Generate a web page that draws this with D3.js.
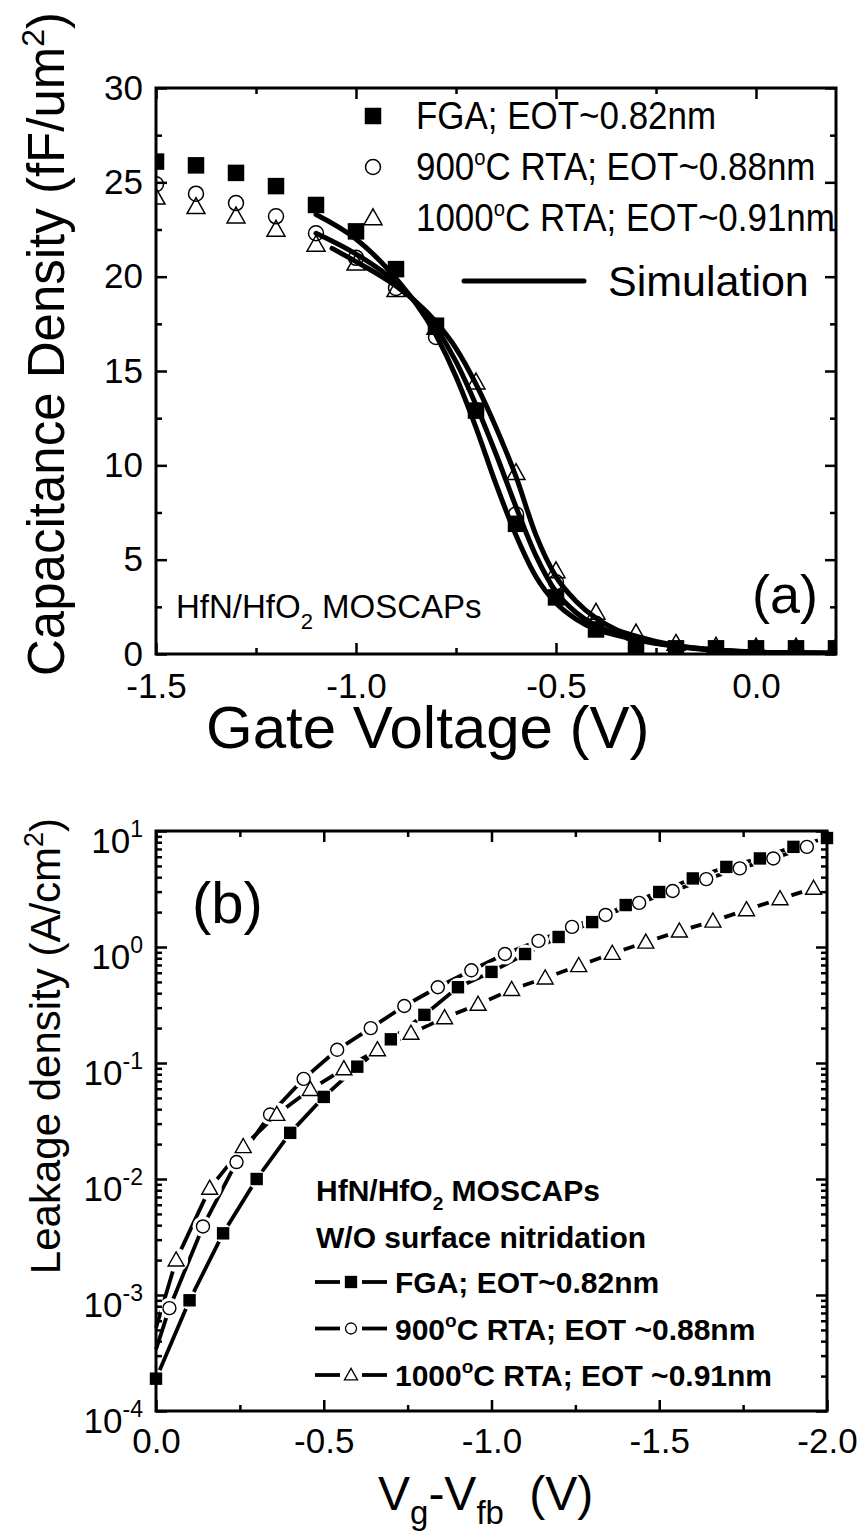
<!DOCTYPE html>
<html>
<head>
<meta charset="utf-8">
<script src="https://cdn.jsdelivr.net/npm/d3@7"></script>
<style>
  body { margin: 0; background: #fff; }
  svg text { font-family: "Liberation Sans", Arial, Helvetica, sans-serif; fill: #000; }
</style>
</head>
<body>
<svg id="fig" width="865" height="1531"></svg>
<script>
// ---------- Panel (a): C–V curves ----------
const capGateV = [-1.5, -1.4, -1.3, -1.2, -1.1, -1.0, -0.9, -0.8, -0.7, -0.6, -0.5, -0.4, -0.3, -0.2, -0.1, 0.0, 0.1, 0.2];
const capFGA   = [26.1, 25.9, 25.5, 24.8, 23.8, 22.4, 20.4, 17.4, 12.9, 6.9, 3.0, 1.3, 0.35, 0.3, 0.3, 0.3, 0.3, 0.3];
const cap900   = [24.9, 24.4, 23.9, 23.2, 22.3, 21.0, 19.4, 16.8, 12.9, 7.4, 3.8, 1.6, 0.3, 0.25, 0.25, 0.25, 0.25, 0.25];
const cap1000  = [24.2, 23.7, 23.2, 22.5, 21.7, 20.7, 19.3, 17.3, 14.4, 9.6, 4.4, 2.2, 1.1, 0.55, 0.4, 0.35, 0.35, 0.35];

// simulated C–V
const simFGAV  = [-1.1, -1.0, -0.9, -0.8, -0.75, -0.7, -0.65, -0.6, -0.55, -0.5, -0.45, -0.4, -0.35, -0.3, -0.2, -0.1, 0.0, 0.1, 0.2];
const simFGA   = [23.3, 22.0, 19.9, 16.9, 14.7, 12.0, 9.0, 6.3, 4.1, 2.7, 1.85, 1.3, 1.0, 0.75, 0.4, 0.2, 0.1, 0.06, 0.04];
const sim900V  = [-1.1, -1.0, -0.9, -0.8, -0.75, -0.7, -0.65, -0.6, -0.55, -0.5, -0.45, -0.4, -0.35, -0.3, -0.2, -0.1, 0.0, 0.1, 0.2];
const sim900   = [22.3, 21.2, 19.7, 17.3, 15.5, 13.2, 10.6, 7.8, 5.2, 3.3, 2.2, 1.5, 1.1, 0.8, 0.42, 0.21, 0.1, 0.06, 0.04];
const sim1000V = [-1.06, -1.0, -0.9, -0.8, -0.75, -0.7, -0.65, -0.6, -0.55, -0.5, -0.45, -0.4, -0.35, -0.3, -0.2, -0.1, 0.0, 0.1, 0.2];
const sim1000  = [21.5, 20.8, 19.5, 17.6, 16.2, 14.3, 12.0, 9.4, 6.3, 4.1, 2.8, 1.9, 1.3, 0.95, 0.45, 0.22, 0.1, 0.06, 0.04];

const capXMajor = [-1.5, -1.0, -0.5, 0.0];
const capXMinor = [-1.25, -0.75, -0.25];
const capYMajor = [0, 5, 10, 15, 20, 25, 30];
const capYMinor = [2.5, 7.5, 12.5, 17.5, 22.5, 27.5];

// ---------- Panel (b): leakage ----------
const leakFGAV  = [0, -0.1, -0.2, -0.3, -0.4, -0.5, -0.6, -0.7, -0.8, -0.9, -1.0, -1.1, -1.2, -1.3, -1.4, -1.5, -1.6, -1.7, -1.8, -1.9, -2.0];
const leakFGA   = [1.9e-4, 9.0e-4, 3.4e-3, 1.0e-2, 2.5e-2, 5.1e-2, 9.3e-2, 0.16, 0.26, 0.45, 0.61, 0.87, 1.22, 1.64, 2.3, 2.98, 3.9, 4.9, 5.8, 7.3, 8.7];
const leak900V  = [0, -0.04, -0.14, -0.24, -0.34, -0.44, -0.54, -0.64, -0.74, -0.84, -0.94, -1.04, -1.14, -1.24, -1.34, -1.44, -1.54, -1.64, -1.74, -1.84, -1.94];
const leak900   = [3.4e-4, 7.7e-4, 3.9e-3, 1.4e-2, 3.6e-2, 0.073, 0.13, 0.20, 0.31, 0.45, 0.63, 0.87, 1.13, 1.49, 1.89, 2.4, 3.04, 3.85, 4.76, 5.8, 7.3];
const leak1000V = [0, -0.06, -0.16, -0.26, -0.36, -0.46, -0.56, -0.66, -0.76, -0.86, -0.96, -1.06, -1.16, -1.26, -1.36, -1.46, -1.56, -1.66, -1.76, -1.86, -1.96];
const leak1000  = [5.2e-4, 2.0e-3, 8.3e-3, 0.019, 0.036, 0.059, 0.089, 0.13, 0.18, 0.245, 0.32, 0.43, 0.54, 0.69, 0.88, 1.1, 1.37, 1.67, 2.09, 2.6, 3.2];

const leakXMajor = [0, -0.5, -1.0, -1.5, -2.0];
const leakXMinor = [-0.25, -0.75, -1.25, -1.75];
const leakDecades = [-4, -3, -2, -1, 0, 1];

const svg = d3.select("#fig");
const FONT_TICK = 35;

// ---------- shared helpers ----------
function marker(g, type, x, y, s, fill, stroke, sw) {
  if (type === "square") {
    return g.append("rect").attr("x", x - s / 2).attr("y", y - s / 2).attr("width", s).attr("height", s)
      .attr("fill", fill).attr("stroke", stroke).attr("stroke-width", sw);
  }
  if (type === "circle") {
    return g.append("circle").attr("cx", x).attr("cy", y).attr("r", s / 2)
      .attr("fill", fill).attr("stroke", stroke).attr("stroke-width", sw);
  }
  const h = s * 0.88;
  return g.append("path")
    .attr("d", `M${x},${y - h * 0.58}L${x + s / 2},${y + h * 0.42}L${x - s / 2},${y + h * 0.42}Z`)
    .attr("fill", fill).attr("stroke", stroke).attr("stroke-width", sw).attr("stroke-linejoin", "miter");
}

// text with super/subscript runs: parts = [[text, "sup"|"sub"|null, dx], ...]
function rich(textSel, parts, size, smallSize, supShift, subShift) {
  let offset = 0;
  parts.forEach(([t, kind, dx]) => {
    const target = kind === "sup" ? -supShift : kind === "sub" ? subShift : 0;
    const ts = textSel.append("tspan")
      .attr("dy", target - offset)
      .attr("font-size", kind ? smallSize : size)
      .text(t);
    if (dx) ts.attr("dx", dx);
    offset = target;
  });
  return textSel;
}

function frame(box) {
  svg.append("rect")
    .attr("x", box.left).attr("y", box.top)
    .attr("width", box.right - box.left).attr("height", box.bottom - box.top)
    .attr("fill", "none").attr("stroke", "#000").attr("stroke-width", 3);
}

function styleAxis(g) {
  g.select(".domain").remove();
  g.selectAll(".tick line").attr("stroke", "#000").attr("stroke-width", 2.5);
  g.selectAll(".tick text").attr("font-size", FONT_TICK).attr("fill", "#000")
    .attr("font-family", '"Liberation Sans", Arial, sans-serif');
}

// ticks on all four sides, pointing inward
function boxTicks(box, x, y, xMajor, xMinor, yMajor, yMinor, xFmt, yFmt, xPad, yPad) {
  const MAJ = 11, MIN = 6;
  svg.append("g").attr("transform", `translate(0,${box.bottom})`)
    .call(d3.axisBottom(x).tickValues(xMajor).tickSize(-MAJ).tickPadding(xPad).tickFormat(xFmt)).call(styleAxis);
  svg.append("g").attr("transform", `translate(0,${box.bottom})`)
    .call(d3.axisBottom(x).tickValues(xMinor).tickSize(-MIN).tickFormat("")).call(styleAxis);
  svg.append("g").attr("transform", `translate(0,${box.top})`)
    .call(d3.axisTop(x).tickValues(xMajor).tickSize(-MAJ).tickFormat("")).call(styleAxis);
  svg.append("g").attr("transform", `translate(0,${box.top})`)
    .call(d3.axisTop(x).tickValues(xMinor).tickSize(-MIN).tickFormat("")).call(styleAxis);
  svg.append("g").attr("transform", `translate(${box.left},0)`)
    .call(d3.axisLeft(y).tickValues(yMajor).tickSize(-MAJ).tickPadding(yPad).tickFormat(yFmt)).call(styleAxis);
  svg.append("g").attr("transform", `translate(${box.left},0)`)
    .call(d3.axisLeft(y).tickValues(yMinor).tickSize(-MIN).tickFormat("")).call(styleAxis);
  svg.append("g").attr("transform", `translate(${box.right},0)`)
    .call(d3.axisRight(y).tickValues(yMajor).tickSize(-MAJ).tickFormat("")).call(styleAxis);
  svg.append("g").attr("transform", `translate(${box.right},0)`)
    .call(d3.axisRight(y).tickValues(yMinor).tickSize(-MIN).tickFormat("")).call(styleAxis);
}

const fmtDec = d => d3.format(".1f")(d).replace("\u2212", "-");

// ================= Panel (a) =================
const boxA = { left: 156, right: 836, top: 88, bottom: 654 };
const xA = d3.scaleLinear().domain([-1.5, 0.2]).range([boxA.left, boxA.right]);
const yA = d3.scaleLinear().domain([0, 30]).range([boxA.bottom, boxA.top]);

svg.append("defs").append("clipPath").attr("id", "clipA")
  .append("rect").attr("x", boxA.left).attr("y", boxA.top)
  .attr("width", boxA.right - boxA.left).attr("height", boxA.bottom - boxA.top);

const capSeries = [
  { y: capFGA, type: "square", fill: "#000", size: 15 },
  { y: cap900, type: "circle", fill: "none", size: 15 },
  { y: cap1000, type: "triangle", fill: "none", size: 18 }
];
const gA = svg.append("g").attr("clip-path", "url(#clipA)");
capSeries.forEach(s => {
  capGateV.forEach((v, i) => marker(gA, s.type, xA(v), yA(s.y[i]), s.size, s.fill, "#000", 1.5));
});

const simLine = d3.line().x(d => xA(d[0])).y(d => yA(d[1])).curve(d3.curveMonotoneX);
[[simFGAV, simFGA], [sim900V, sim900], [sim1000V, sim1000]].forEach(([vx, vy]) => {
  gA.append("path").attr("d", simLine(vx.map((v, i) => [v, vy[i]])))
    .attr("fill", "none").attr("stroke", "#000").attr("stroke-width", 5).attr("stroke-linecap", "round");
});

frame(boxA);
boxTicks(boxA, xA, yA, capXMajor, capXMinor, capYMajor, capYMinor, fmtDec, d3.format("d"), 19, 13);

// legend (a)
const legA = [
  { type: "square", fill: "#000", size: 15, parts: [["FGA; EOT~0.82nm", null]] },
  { type: "circle", fill: "none", size: 15, parts: [["900", null], ["o", "sup"], ["C RTA; EOT~0.88nm", null]] },
  { type: "triangle", fill: "none", size: 18, parts: [["1000", null], ["o", "sup"], ["C RTA; EOT~0.91nm", null]] }
];
legA.forEach((d, i) => {
  const cy = 116 + i * 51;
  marker(svg, d.type, 373, cy, d.size, d.fill, "#000", 1.5);
  const t = svg.append("text").attr("transform", `translate(416,${cy + 13}) scale(0.92,1)`);
  rich(t, d.parts, 38, 22, 15, 0);
});
svg.append("line").attr("x1", 464).attr("x2", 584).attr("y1", 281).attr("y2", 281)
  .attr("stroke", "#000").attr("stroke-width", 5).attr("stroke-linecap", "round");
svg.append("text").attr("x", 608).attr("y", 296).attr("font-size", 43).text("Simulation");

rich(svg.append("text").attr("x", 176).attr("y", 618),
  [["HfN/HfO", null], ["2", "sub"], [" MOSCAPs", null]], 33, 22, 0, 11);
svg.append("text").attr("x", 752).attr("y", 613).attr("font-size", 54).text("(a)");

svg.append("text").attr("x", 206).attr("y", 748).attr("font-size", 60).text("Gate Voltage (V)");
rich(svg.append("text").attr("transform", "translate(64,344) rotate(-90)").attr("text-anchor", "middle"),
  [["Capacitance Density (fF/um", null], ["2", "sup"], [")", null]], 51, 32, 20, 0);

// ================= Panel (b) =================
const boxB = { left: 156, right: 827, top: 831, bottom: 1411 };
const xB = d3.scaleLinear().domain([0, -2]).range([boxB.left, boxB.right]);
const yB = d3.scaleLog().domain([1e-4, 10]).range([boxB.bottom, boxB.top]);

const leakSeries = [
  { v: leakFGAV, j: leakFGA, type: "square", size: 11, markOrigin: true },
  { v: leak900V, j: leak900, type: "circle", size: 13, markOrigin: false },
  { v: leak1000V, j: leak1000, type: "triangle", size: 16, markOrigin: false }
];
const leakLine = d3.line().x(d => xB(d[0])).y(d => yB(d[1]));
const gB = svg.append("g");
leakSeries.forEach(s => {
  gB.append("path").attr("d", leakLine(s.v.map((v, i) => [v, s.j[i]])))
    .attr("fill", "none").attr("stroke", "#000").attr("stroke-width", 3.8).attr("stroke-linejoin", "round");
});
const halo = gB.append("g"), marks = gB.append("g");
leakSeries.forEach(s => {
  s.v.forEach((v, i) => {
    if (v === 0 && !s.markOrigin) return;
    halo.append("circle").attr("cx", xB(v)).attr("cy", yB(s.j[i])).attr("r", s.size / 2 + 4).attr("fill", "#fff");
  });
});
leakSeries.forEach(s => {
  s.v.forEach((v, i) => {
    if (v === 0 && !s.markOrigin) return;
    marker(marks, s.type, xB(v), yB(s.j[i]), s.size, s.type === "square" ? "#000" : "#fff", "#000", 1.4);
  });
});

frame(boxB);
const logMinor = [];
leakDecades.slice(0, -1).forEach(e => { for (let k = 2; k <= 9; k++) logMinor.push(k * Math.pow(10, e)); });
boxTicks(boxB, xB, yB, leakXMajor, leakXMinor, leakDecades.map(e => Math.pow(10, e)), logMinor,
  fmtDec, () => "", 17, 13);

// decade labels 10^n
leakDecades.forEach(e => {
  const t = svg.append("text").attr("x", 143).attr("y", yB(Math.pow(10, e)) + 22).attr("text-anchor", "end");
  rich(t, [["10", null], [String(e), "sup"]], 35, 23, 16, 0);
});

svg.append("text").attr("x", 192).attr("y", 923).attr("font-size", 58).text("(b)");

// legend (b)
const legB = svg.append("g").attr("font-weight", "bold");
rich(legB.append("text").attr("x", 316).attr("y", 1201),
  [["HfN/HfO", null], ["2", "sub"], [" MOSCAPs", null]], 30, 19, 0, 9);
legB.append("text").attr("x", 316).attr("y", 1248).attr("font-size", 30).text("W/O surface nitridation");
const legBItems = [
  { type: "square", size: 11, fill: "#000", parts: [["FGA; EOT~0.82nm", null]] },
  { type: "circle", size: 11, fill: "#fff", parts: [["900", null], ["o", "sup"], ["C RTA; EOT ~0.88nm", null]] },
  { type: "triangle", size: 13, fill: "#fff", parts: [["1000", null], ["o", "sup"], ["C RTA; EOT ~0.91nm", null]] }
];
legBItems.forEach((d, i) => {
  const base = 1293 + i * 46.5, cy = base - 11;
  legB.append("line").attr("x1", 315).attr("x2", 340).attr("y1", cy).attr("y2", cy).attr("stroke", "#000").attr("stroke-width", 3.8);
  legB.append("line").attr("x1", 362).attr("x2", 387).attr("y1", cy).attr("y2", cy).attr("stroke", "#000").attr("stroke-width", 3.8);
  marker(legB, d.type, 351, cy, d.size, d.fill, "#000", 1.3);
  rich(legB.append("text").attr("x", 395).attr("y", base), d.parts, 30, 19, 13, 0);
});

rich(svg.append("text").attr("x", 378).attr("y", 1510),
  [["V", null], ["g", "sub"], ["-V", null], ["fb", "sub"], [" (V)", null, 12]], 48, 33, 0, 14);
rich(svg.append("text").attr("transform", "translate(60,1046) rotate(-90)").attr("text-anchor", "middle"),
  [["Leakage density (A/cm", null], ["2", "sup"], [")", null]], 42, 27, 17, 0);
</script>
</body>
</html>
